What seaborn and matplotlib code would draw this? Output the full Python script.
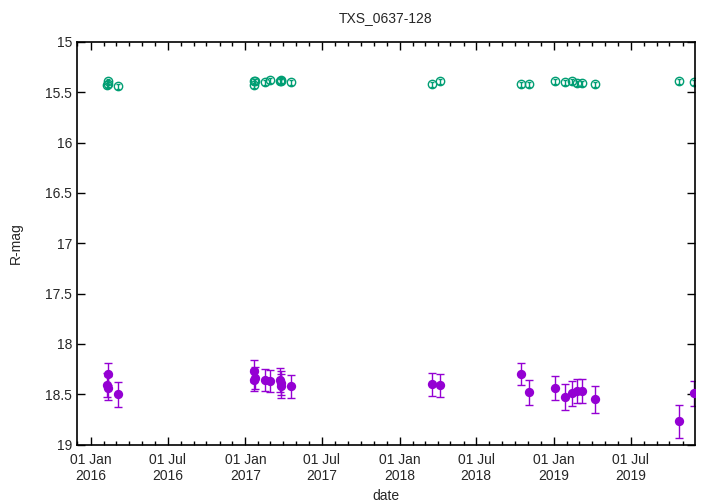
import pandas as pd
import numpy as np
import seaborn as sns
import matplotlib.pyplot as plt
import matplotlib.dates as mdates

# R-band magnitudes of the target (purple) and comparison star (green)
dates = ['2016-02-10', '2016-02-11', '2016-02-11', '2016-03-06',
         '2017-01-21', '2017-01-22', '2017-01-23', '2017-02-16', '2017-02-28',
         '2017-03-24', '2017-03-26', '2017-03-27', '2017-04-19',
         '2018-03-18', '2018-04-06', '2018-10-16', '2018-11-04',
         '2019-01-04', '2019-01-27', '2019-02-12', '2019-02-25', '2019-03-09',
         '2019-04-08', '2019-10-23', '2019-11-27']
target_mag = [18.41, 18.30, 18.44, 18.50,
              18.36, 18.27, 18.34, 18.36, 18.37,
              18.36, 18.42, 18.39, 18.42,
              18.40, 18.41, 18.30, 18.48,
              18.44, 18.53, 18.49, 18.47, 18.47,
              18.55, 18.77, 18.49]
target_err = [0.12, 0.11, 0.12, 0.125,
              0.11, 0.105, 0.11, 0.11, 0.11,
              0.12, 0.12, 0.12, 0.115,
              0.115, 0.113, 0.107, 0.124,
              0.12, 0.13, 0.124, 0.121, 0.122,
              0.132, 0.163, 0.124]
comp_mag = [15.43, 15.39, 15.42, 15.44,
            15.43, 15.39, 15.39, 15.40, 15.38,
            15.39, 15.38, 15.39, 15.40,
            15.42, 15.39, 15.42, 15.42,
            15.39, 15.40, 15.39, 15.41, 15.41,
            15.42, 15.39, 15.40]
comp_err = [0.025] * len(dates)

df = pd.DataFrame({'date': pd.to_datetime(dates), 'target': target_mag,
                   'target_err': target_err, 'comp': comp_mag, 'comp_err': comp_err})

sns.set_style("ticks")
plt.rcParams['font.family'] = ['Liberation Sans', 'DejaVu Sans']
plt.rcParams['font.size'] = 10

fig, ax = plt.subplots(figsize=(7.2, 5.04), dpi=100)
fig.subplots_adjust(left=0.107, right=0.965, top=0.917, bottom=0.118)

purple = '#9400d3'
green = '#009e73'

ax.errorbar(df['date'], df['comp'], yerr=df['comp_err'], fmt='o', mfc='none',
            mec=green, ecolor=green, ms=6, mew=1, elinewidth=1, capsize=1.5)
ax.errorbar(df['date'], df['target'], yerr=df['target_err'], fmt='none',
            ecolor=purple, elinewidth=1, capsize=3)
sns.scatterplot(data=df, x='date', y='target', color=purple, s=45,
                edgecolor=purple, linewidth=0, ax=ax, zorder=3)

ax.set_ylim(19, 15)
ax.set_yticks(np.arange(15, 19.01, 0.5))
ax.set_yticklabels(['15', '15.5', '16', '16.5', '17', '17.5', '18', '18.5', '19'])
ax.set_xlim(pd.Timestamp('2015-11-30'), pd.Timestamp('2019-11-30'))
ax.xaxis.set_major_locator(mdates.MonthLocator(bymonth=[1, 7]))
ax.xaxis.set_minor_locator(mdates.MonthLocator())
ax.xaxis.set_major_formatter(mdates.DateFormatter('%d %b\n%Y'))

ax.tick_params(which='both', direction='in', top=True, right=True, width=1, color='black')
ax.tick_params(which='major', length=6)
ax.tick_params(which='minor', length=3)
ax.tick_params(axis='x', pad=6)
for s in ax.spines.values():
    s.set_linewidth(1.2)
    s.set_color('black')

ax.set_xlabel('date')
ax.set_ylabel('R-mag')
ax.yaxis.set_label_coords(-0.088, 0.5)
ax.set_title('TXS_0637-128', fontsize=10, pad=14)

plt.savefig('out.png', dpi=100)
